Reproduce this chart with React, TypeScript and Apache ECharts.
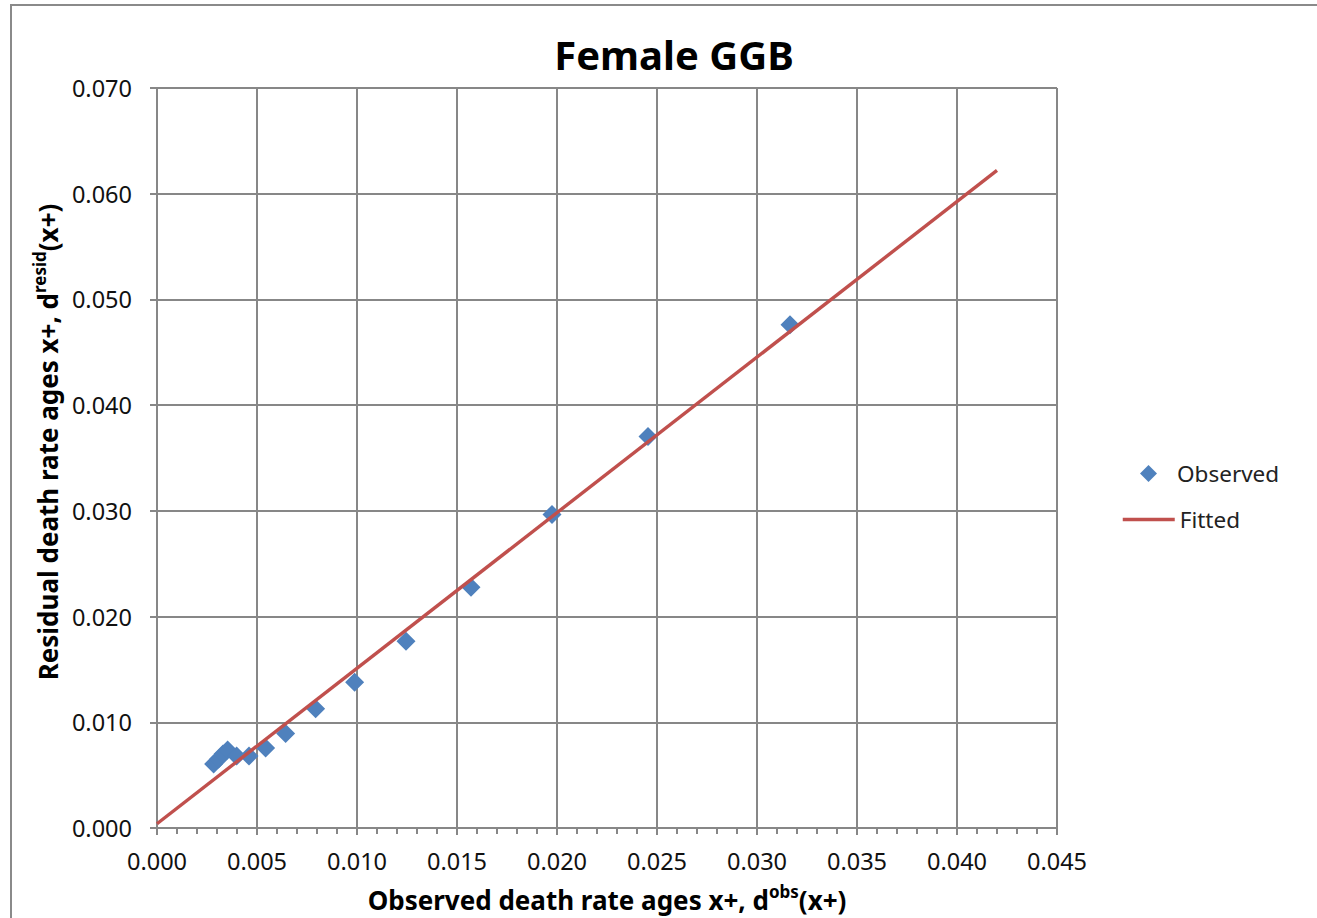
import React, { useEffect, useRef } from "react";
import * as echarts from "echarts";

const titleText = "Female GGB";
const observedName = "Observed";
const fittedName = "Fitted";

// Observed death rate ages x+ (x) and residual death rate (y)
const obsX = [0.00283, 0.00308, 0.0033, 0.00353, 0.00398, 0.0046, 0.00543, 0.00643, 0.00793, 0.00988, 0.01245, 0.0157, 0.01975, 0.02455, 0.03165];
const obsY = [0.00605, 0.00652, 0.0070, 0.00737, 0.0068, 0.0068, 0.00756, 0.00893, 0.01129, 0.01379, 0.01767, 0.02277, 0.02966, 0.03703, 0.04761];

// Fitted straight line end points
const fitX = [0, 0.042];
const fitY = [0.0004, 0.0622];

const xMin = 0;
const xMax = 0.045;
const xStep = 0.005;
const yMin = 0;
const yMax = 0.07;
const yStep = 0.01;

const FONT = "'Noto Sans', 'Open Sans', sans-serif";
const GRID_COLOR = "#878787";

const nameRich = {
  b: { fontFamily: FONT, fontSize: 26, fontWeight: "bold", color: "#000", lineHeight: 34 },
  s: { fontFamily: FONT, fontSize: 17, fontWeight: "bold", color: "#000", lineHeight: 16, verticalAlign: "top" },
};

export default function App() {
  const ref = useRef<HTMLDivElement>(null);

  useEffect(() => {
    if (!ref.current) return;
    const chart = echarts.init(ref.current, null, { renderer: "svg" });
    const fmt = (v: number) => v.toFixed(3);
    const option: any = {
      animation: false,
      backgroundColor: "#ffffff",
      textStyle: { fontFamily: FONT },
      title: {
        text: titleText,
        left: 669,
        top: 29,
        textAlign: "center",
        textStyle: { fontFamily: FONT, fontSize: 40, fontWeight: "bold", color: "#000" },
      },
      graphic: [
        {
          type: "rect",
          shape: { x: 11, y: 5, width: 1500, height: 1000 },
          style: { fill: "none", stroke: "#8a8a8a", lineWidth: 2 },
          silent: true,
          z: -1,
        },
      ],
      legend: [
        {
          data: [observedName],
          left: 1140,
          top: 462,
          padding: 0,
          orient: "vertical",
          itemWidth: 17,
          itemHeight: 17,
          textStyle: { fontFamily: FONT, fontSize: 22.5, color: "#222", padding: [0, 0, 0, 15] },
        },
        {
          data: [fittedName],
          left: 1121,
          top: 508,
          padding: 0,
          orient: "vertical",
          itemWidth: 52,
          itemHeight: 14,
          itemStyle: { color: "rgba(0,0,0,0)", borderColor: "rgba(0,0,0,0)", borderWidth: 0, opacity: 0 },
          lineStyle: { width: 3.5 },
          textStyle: { fontFamily: FONT, fontSize: 22.5, color: "#222" },
        },
      ],
      grid: { left: 157, right: 260, top: 88, bottom: 89, containLabel: false },
      xAxis: [
        {
          type: "value",
          min: xMin,
          max: xMax,
          interval: xStep,
          name: "{b|Observed death rate ages x+, d}{s|obs}{b|(x+)}",
          nameLocation: "middle",
          nameGap: 55,
          nameTextStyle: { rich: nameRich },
          axisLine: { show: true, lineStyle: { color: GRID_COLOR, width: 2 } },
          axisTick: { show: true, inside: false, length: 7, lineStyle: { color: GRID_COLOR, width: 2 } },
          minorTick: { show: true, splitNumber: 5, length: 6, lineStyle: { color: GRID_COLOR, width: 2 } },
          axisLabel: { formatter: fmt, fontFamily: FONT, fontSize: 23.5, color: "#111", margin: 21 },
          splitLine: { show: true, lineStyle: { color: GRID_COLOR, width: 2 } },
        },
        {
          type: "value",
          min: xMin,
          max: xMax,
          interval: xStep,
          position: "bottom",
          axisLine: { show: false },
          axisTick: { show: false },
          axisLabel: { show: false },
          splitLine: { show: false },
          minorTick: { show: true, inside: true, splitNumber: 5, length: 6, lineStyle: { color: GRID_COLOR, width: 2 } },
        },
      ],
      yAxis: {
        type: "value",
        min: yMin,
        max: yMax,
        interval: yStep,
        name: "{b|Residual death rate ages x+, d}{s|resid}{b|(x+)}",
        nameLocation: "middle",
        nameRotate: 90,
        nameGap: 90,
        nameTextStyle: { rich: nameRich, padding: [0, 0, 0, 32] },
        axisLine: { show: true, lineStyle: { color: GRID_COLOR, width: 2 } },
        axisTick: { show: true, inside: false, length: 7, lineStyle: { color: GRID_COLOR, width: 2 } },
        axisLabel: { formatter: fmt, fontFamily: FONT, fontSize: 23.5, color: "#111", margin: 25 },
        splitLine: { show: true, lineStyle: { color: GRID_COLOR, width: 2 } },
      },
      series: [
        {
          name: observedName,
          type: "scatter",
          symbol: "diamond",
          symbolSize: 19,
          itemStyle: { color: "#4F81BD", opacity: 1 },
          data: obsX.map((x, i) => [x, obsY[i]]),
          z: 3,
        },
        {
          name: fittedName,
          type: "line",
          symbol: "none",
          lineStyle: { color: "#C0504D", width: 3.4 },
          itemStyle: { color: "#C0504D" },
          data: fitX.map((x, i) => [x, fitY[i]]),
          z: 4,
        },
      ],
    };
    chart.setOption(option);
    return () => chart.dispose();
  }, []);

  return (
    <div
      ref={ref}
      style={{ position: "absolute", left: 0, top: 0, width: 1317, height: 918 }}
    />
  );
}
